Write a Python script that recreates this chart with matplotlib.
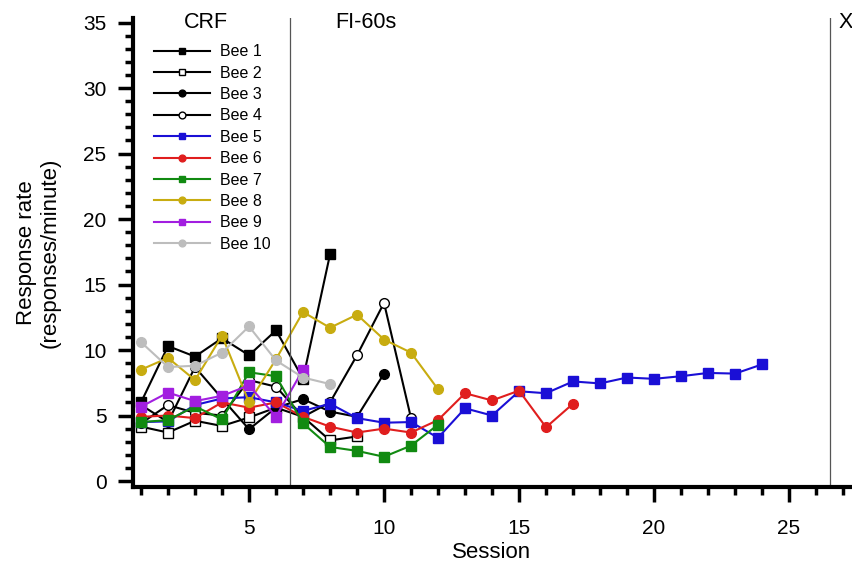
import numpy as np
import matplotlib
matplotlib.use('Agg')
from matplotlib import pyplot as plt
from matplotlib.ticker import MultipleLocator

plt.rcParams['font.family'] = ['Liberation Sans', 'DejaVu Sans']

# response rate per session, one list per bee (session 1 onwards)
bee1 = [6.0, 10.3, 9.5, 10.9, 9.6, 11.5, 7.8, 17.3]
bee2 = [4.15, 3.7, 4.6, 4.2, 4.85, 5.6, 4.9, 3.1, 3.4]
bee3 = [5.8, 4.5, 8.7, 6.3, 3.95, 5.6, 6.25, 5.3, 4.9, 8.2]
bee4 = [4.4, 5.8, 5.2, 5.0, 7.7, 7.2, 4.9, 6.0, 9.6, 13.6, 4.8]
bee5 = [4.5, 4.55, 5.8, 6.3, 6.4, 6.0, 5.35, 5.9, 4.8, 4.45, 4.5, 3.3, 5.55,
        5.0, 6.85, 6.7, 7.6, 7.45, 7.9, 7.8, 8.0, 8.25, 8.2, 8.9]
bee6 = [4.9, 5.0, 4.8, 6.0, 5.6, 6.0, 4.9, 4.15, 3.7, 4.0, 3.7, 4.65, 6.7,
        6.15, 6.9, 4.1, 5.9]
bee7 = [4.5, 4.65, 5.7, 4.7, 8.3, 8.0, 4.4, 2.6, 2.3, 1.85, 2.7, 4.3]
bee8 = [8.5, 9.4, 7.7, 11.1, 6.0, 9.3, 12.9, 11.7, 12.7, 10.8, 9.8, 7.0]
bee9 = [5.67, 6.75, 6.1, 6.5, 7.3, 4.9, 8.5]
bee10 = [10.6, 8.7, 8.8, 9.8, 11.8, 9.2, 7.9, 7.4]

bees = [bee1, bee2, bee3, bee4, bee5, bee6, bee7, bee8, bee9, bee10]
names = ['Bee %d' % (i + 1) for i in range(10)]
colors = ['black', 'black', 'black', 'black', '#1a0fd6', '#e01e1e',
          '#118a11', '#c8ac10', '#a21ee0', '#bdbdbd']
markers = ['s', 's', 'o', 'o', 's', 'o', 's', 'o', 's', 'o']
faces = ['black', 'white', 'black', 'white', '#1a0fd6', '#e01e1e',
         '#118a11', '#c8ac10', '#a21ee0', '#bdbdbd']

fig = plt.figure(figsize=(8.52, 5.65), dpi=100)
ax = fig.add_axes([0.156, 0.138, 0.843, 0.83])

for vals, name, c, m, fc in zip(bees, names, colors, markers, faces):
    sessions = np.arange(1, len(vals) + 1)
    ax.plot(sessions, vals, color=c, marker=m, markerfacecolor=fc,
            markeredgecolor=c, markersize=7, lw=1.5, label=name)

# phase lines and phase names
ax.axvline(6.5, color='#555555', lw=0.9)
ax.axvline(26.5, color='#555555', lw=0.9)
ax.text(0.102, 0.99, 'CRF', transform=ax.transAxes, ha='center', va='center', fontsize=15.5)
ax.text(0.325, 0.99, 'FI-60s', transform=ax.transAxes, ha='center', va='center', fontsize=15.5)
ax.text(0.992, 0.99, 'X', transform=ax.transAxes, ha='center', va='center', fontsize=15.5)

ax.set_xlim(0.7, 27.3)
ax.set_ylim(-0.46, 35.34)
ax.xaxis.set_major_locator(MultipleLocator(5))
ax.xaxis.set_minor_locator(MultipleLocator(1))
ax.yaxis.set_major_locator(MultipleLocator(5))
ax.yaxis.set_minor_locator(MultipleLocator(1))
ax.tick_params(which='major', length=11, width=2.5, labelsize=15, pad=8)
ax.tick_params(axis='x', which='major', pad=12)
ax.tick_params(which='minor', length=6, width=2.5)

for s in ['top', 'right']:
    ax.spines[s].set_visible(False)
for s in ['left', 'bottom']:
    ax.spines[s].set_linewidth(3)

ax.set_xlabel('Session', fontsize=16, labelpad=3)
ax.set_ylabel('Response rate\n(responses/minute)', fontsize=16, labelpad=16)

ax.legend(loc='upper left', bbox_to_anchor=(0.01, 0.975), frameon=False,
          fontsize=11.5, handlelength=3.5, markerscale=0.7, labelspacing=0.4,
          handletextpad=0.6)

fig.savefig('out.png', dpi=100)
